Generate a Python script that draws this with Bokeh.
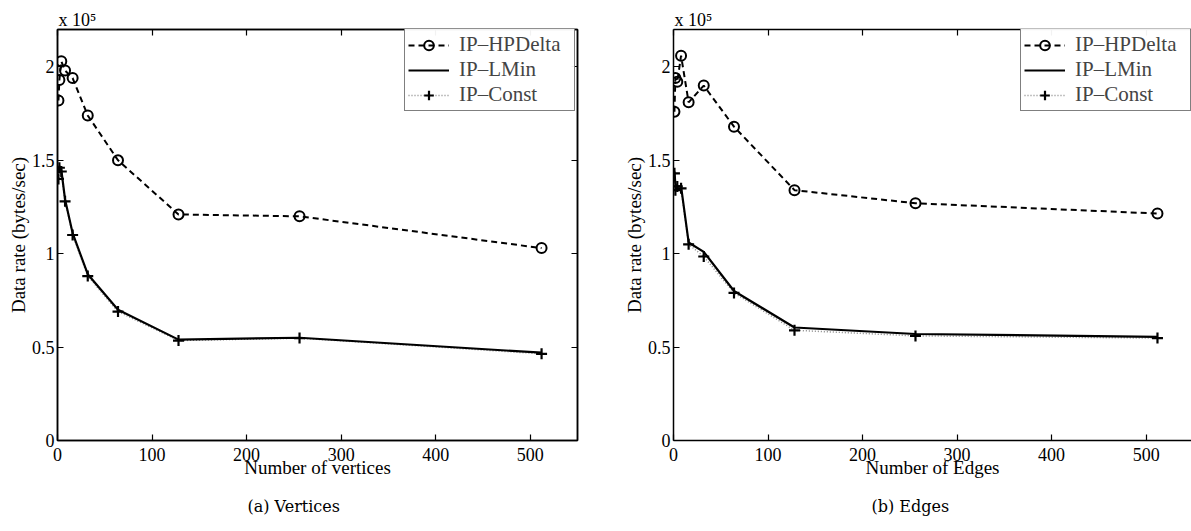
from bokeh.plotting import figure
from bokeh.models import (Range1d, LinearAxis, Legend, LegendItem, Title,
                          FixedTicker)
from bokeh.layouts import row
from bokeh.embed import file_html
from bokeh.resources import INLINE

# ---- data (data rate in units of 1e5 bytes/sec) ----
sizes = [1, 2, 4, 8, 16, 32, 64, 128, 256, 512]

vert_hpdelta = [1.82, 1.93, 2.03, 1.98, 1.94, 1.74, 1.50, 1.21, 1.20, 1.03]
vert_lmin = [1.43, 1.47, 1.45, 1.29, 1.11, 0.89, 0.70, 0.54, 0.55, 0.47]
vert_const = [1.40, 1.46, 1.44, 1.28, 1.10, 0.88, 0.69, 0.535, 0.548, 0.464]

edge_hpdelta = [1.76, 1.94, 1.92, 2.06, 1.81, 1.90, 1.68, 1.34, 1.27, 1.215]
edge_lmin = [1.44, 1.37, 1.36, 1.36, 1.06, 1.01, 0.80, 0.605, 0.57, 0.555]
edge_const = [1.43, 1.34, 1.36, 1.35, 1.05, 0.985, 0.79, 0.59, 0.56, 0.548]

x_ticks = [0, 100, 200, 300, 400, 500]
y_ticks = [0, 0.5, 1, 1.5, 2]
y_tick_labels = {0: "0", 0.5: "0.5", 1: "1", 1.5: "1.5", 2: "2"}
series_names = ["IP\u2013HPDelta", "IP\u2013LMin", "IP\u2013Const"]
scale_text = "x 10\u2075"

FONT = "Liberation Serif"


def style_axis(ax, ticks, labels=True):
    ax.ticker = FixedTicker(ticks=ticks)
    ax.major_tick_in = 6
    ax.major_tick_out = 0
    ax.minor_tick_line_color = None
    ax.axis_line_width = 1.5
    ax.axis_line_color = "black"
    ax.major_tick_line_width = 1.2
    ax.major_tick_line_color = "black"
    ax.major_label_text_font = FONT
    ax.major_label_text_color = "black"
    if labels:
        ax.major_label_text_font_size = "18px"
        ax.major_label_standoff = 3
    else:
        ax.major_label_overrides = {t: "" for t in ticks}
        ax.major_label_text_font_size = "2px"
        ax.major_label_standoff = 0


def make_panel(hp, lm, co, xlabel, caption, cap_offset, x_end, width,
               b_left, b_right, right_axis):
    p = figure(width=width, height=531, x_range=Range1d(0, x_end),
               y_range=Range1d(0, 2.2), output_backend="svg",
               toolbar_location=None, min_border_left=b_left,
               min_border_right=b_right, min_border_top=29,
               min_border_bottom=91)
    p.grid.visible = False
    p.outline_line_color = "black" if right_axis else None
    p.outline_line_width = 1.5

    style_axis(p.xaxis[0], x_ticks)
    style_axis(p.yaxis[0], y_ticks)
    p.xaxis[0].major_label_standoff = 7
    p.yaxis[0].major_label_overrides = y_tick_labels
    p.xaxis[0].axis_label = xlabel
    p.yaxis[0].axis_label = "Data rate (bytes/sec)"
    for ax in (p.xaxis[0], p.yaxis[0]):
        ax.axis_label_text_font = FONT
        ax.axis_label_text_font_style = "normal"
        ax.axis_label_text_font_size = "19px"
        ax.axis_label_text_color = "black"
        ax.axis_label_standoff = 0
    p.xaxis[0].axis_label_standoff = -7

    top = LinearAxis()
    style_axis(top, x_ticks, labels=False)
    p.add_layout(top, "above")
    if right_axis:
        rt = LinearAxis()
        style_axis(rt, y_ticks, labels=False)
        p.add_layout(rt, "right")

    l_hp = p.line(sizes, hp, line_color="black", line_width=2,
                  line_dash="6 4")
    m_hp = p.scatter(sizes, hp, marker="circle", size=10, line_color="black",
                     line_width=2, fill_color=None)
    l_co = p.line(sizes, co, line_color="#888888", line_width=1.5,
                  line_dash="1 2")
    l_lm = p.line(sizes, lm, line_color="black", line_width=2.2)
    m_co = p.scatter(sizes, co, marker="cross", size=11, line_color="black",
                     line_width=2.2)

    legend = Legend(items=[
        LegendItem(label=series_names[0], renderers=[l_hp, m_hp]),
        LegendItem(label=series_names[1], renderers=[l_lm]),
        LegendItem(label=series_names[2], renderers=[l_co, m_co]),
    ], location=(347, 329))
    legend.border_line_color = "black"
    legend.border_line_width = 1.2
    legend.label_text_font = FONT
    legend.label_text_font_size = "21px"
    legend.glyph_width = 41
    legend.glyph_height = 24
    legend.label_height = 24
    legend.label_width = 112
    legend.spacing = 0
    legend.padding = 3
    legend.margin = 0
    legend.label_standoff = 10
    p.add_layout(legend)

    p.add_layout(Title(text=scale_text, align="left", text_font=FONT,
                       text_font_size="18px", text_font_style="normal",
                       text_color="black", standoff=0, offset=1), "above")

    p.add_layout(Title(text=caption, align="left", text_font="DejaVu Serif",
                       text_font_size="16px", text_font_style="normal",
                       text_color="black", standoff=29, offset=cap_offset),
                 "below")
    return p


p1 = make_panel(vert_hpdelta, vert_lmin, vert_const, "Number of vertices",
                "(a) Vertices", 190, 550, 620, 57, 43, True)
p2 = make_panel(edge_hpdelta, edge_lmin, edge_const, "Number of Edges",
                "(b) Edges", 198, 548, 571, 53, 0, False)

layout = row(p1, p2)
open("out.html", "w").write(file_html(layout, INLINE))
